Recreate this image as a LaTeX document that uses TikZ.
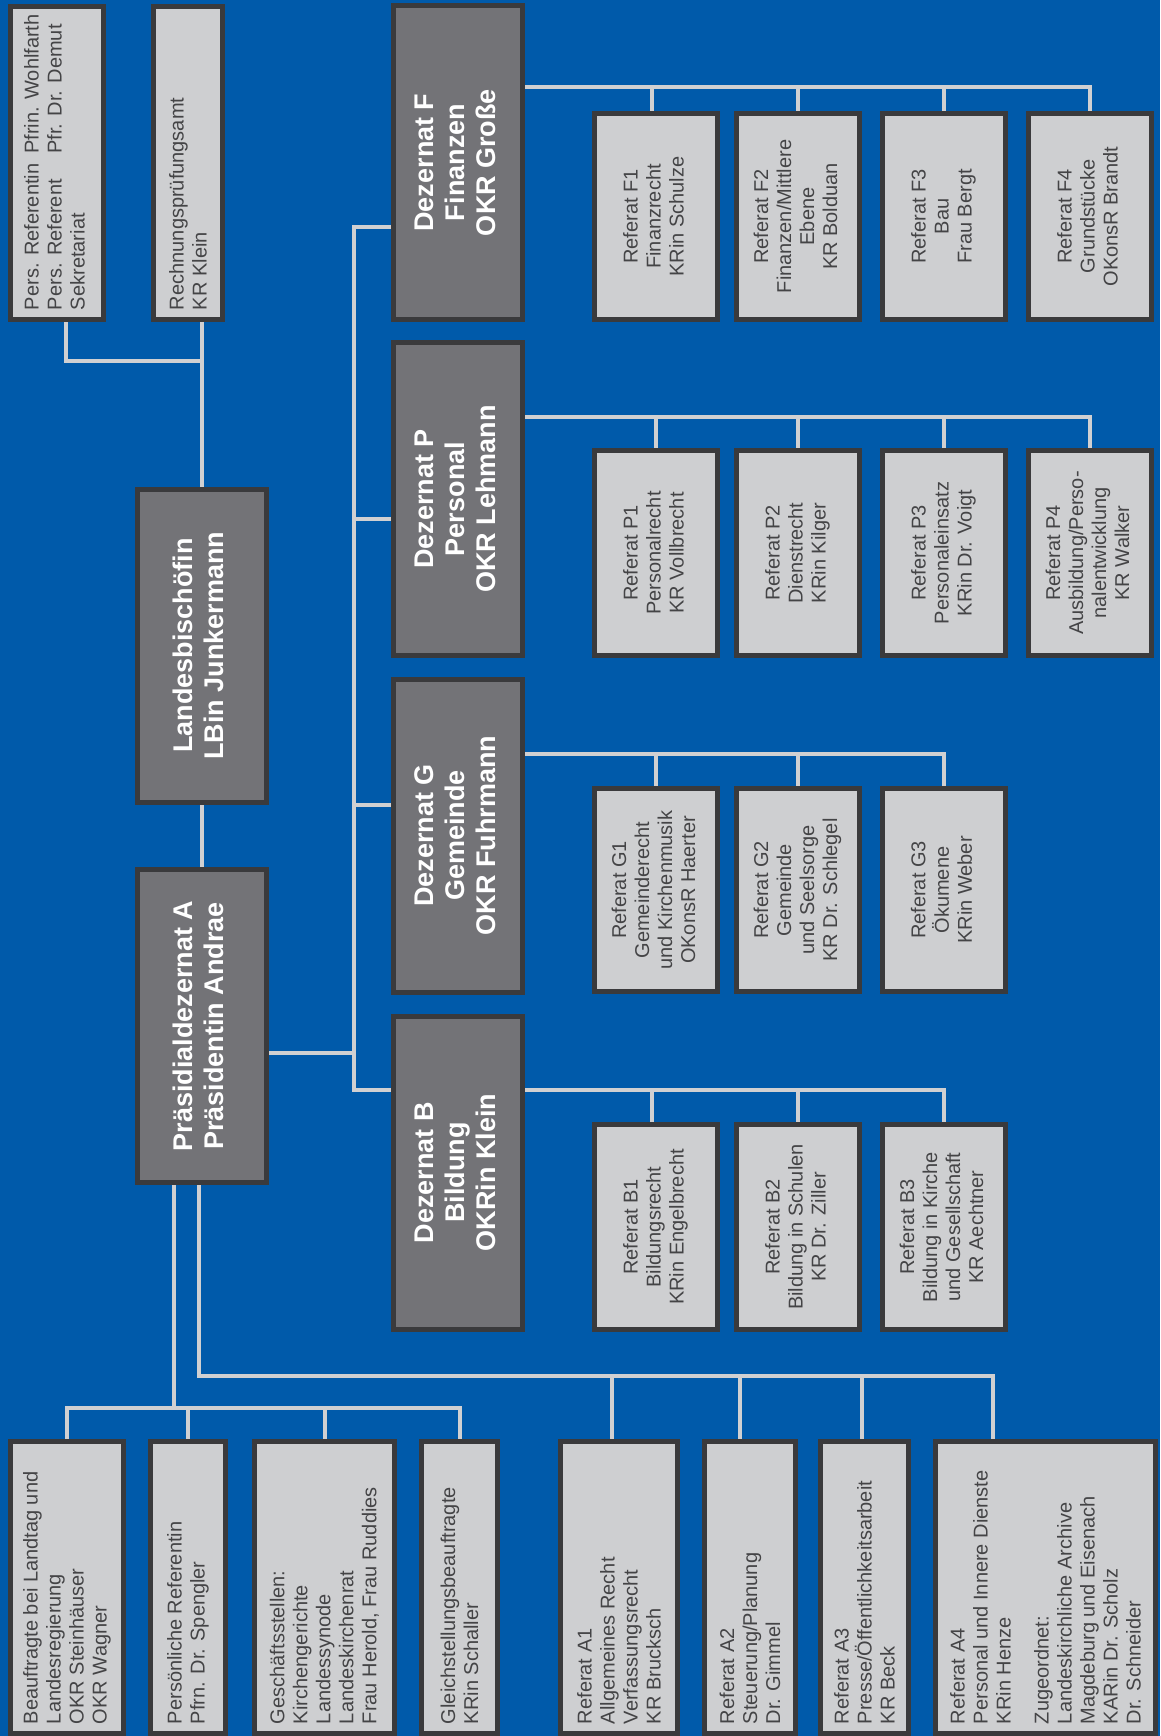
\documentclass[tikz,border=0pt]{standalone}
\usepackage{fontspec}
\setmainfont{Liberation Sans}
\usepackage{graphicx}
\usepackage{tikz}
\usetikzlibrary{backgrounds,calc}

\definecolor{panel}{RGB}{0,90,170}
\definecolor{rim}{RGB}{58,58,60}
\definecolor{pale}{RGB}{206,207,209}
\definecolor{slate}{RGB}{115,115,119}
\definecolor{ink}{RGB}{68,68,70}
\definecolor{wirecol}{RGB}{208,208,210}

\newcommand{\uptext}[1]{\rotatebox{90}{\begin{tabular}{@{}c@{}}#1\end{tabular}}}
\newcommand{\upflush}[2]{\rotatebox{90}{\begin{minipage}{#1}\raggedright #2\end{minipage}}}

\begin{document}
\begin{tikzpicture}[x=1pt,y=-1pt,
  box/.style 2 args={draw=rim,line width=5pt,inner sep=0pt,minimum width=#1,minimum height=#2},
  unit/.style 2 args={box={#1}{#2},fill=pale,text=ink,font=\fontsize{20}{23}\selectfont},
  dez/.style={box={129pt}{313pt},fill=slate,text=white,font=\bfseries\fontsize{27}{31}\selectfont},
  link/.style={draw=wirecol,line width=4pt}]
\useasboundingbox (0,0) rectangle (1160,1736);

% Leitung
\node[unit={93pt}{313pt}] (pers) at (57,163) {\upflush{294pt}{\begin{tabular}{@{}l@{\hspace{10pt}}l@{}}Pers. Referentin & Pfrin. Wohlfarth\\Pers. Referent & Pfr. Dr. Demut\\Sekretariat\end{tabular}}};
\node[unit={69pt}{313pt}] (rpa) at (188,163) {\upflush{294pt}{Rechnungsprüfungsamt\\KR Klein}};
\node[dez] (lb) at (202,645.5) {\uptext{Landesbischöfin\\LBin Junkermann}};
\node[dez] (pa) at (202,1026) {\uptext{Präsidialdezernat A\\Präsidentin Andrae}};

% Dezernate
\node[dez] (dF) at (458,162.5) {\uptext{Dezernat F\\Finanzen\\OKR Große}};
\node[dez] (dP) at (458,499) {\uptext{Dezernat P\\Personal\\OKR Lehmann}};
\node[dez] (dG) at (458,835.5) {\uptext{Dezernat G\\Gemeinde\\OKR Fuhrmann}};
\node[dez] (dB) at (458,1172.5) {\uptext{Dezernat B\\Bildung\\OKRin Klein}};

% Referate F
\node[unit={123pt}{206pt}] (f1) at (656,216.5) {\uptext{Referat F1\\Finanzrecht\\KRin Schulze}};
\node[unit={123pt}{206pt}] (f2) at (798,216.5) {\uptext{Referat F2\\Finanzen/Mittlere\\Ebene\\KR Bolduan}};
\node[unit={123pt}{206pt}] (f3) at (944,216.5) {\uptext{Referat F3\\Bau\\Frau Bergt}};
\node[unit={123pt}{206pt}] (f4) at (1090,216.5) {\uptext{Referat F4\\Grundstücke\\OKonsR Brandt}};

% Referate P
\node[unit={123pt}{205pt}] (p1) at (656,553) {\uptext{Referat P1\\Personalrecht\\KR Vollbrecht}};
\node[unit={123pt}{205pt}] (p2) at (798,553) {\uptext{Referat P2\\Dienstrecht\\KRin Kilger}};
\node[unit={123pt}{205pt}] (p3) at (944,553) {\uptext{Referat P3\\Personaleinsatz\\KRin Dr. Voigt}};
\node[unit={123pt}{205pt}] (p4) at (1090,553) {\uptext{Referat P4\\Ausbildung/Perso-\\nalentwicklung\\KR Walker}};

% Referate G
\node[unit={123pt}{203pt}] (g1) at (656,890) {\uptext{Referat G1\\Gemeinderecht\\und Kirchenmusik\\OKonsR Haerter}};
\node[unit={123pt}{203pt}] (g2) at (798,890) {\uptext{Referat G2\\Gemeinde\\und Seelsorge\\KR Dr. Schlegel}};
\node[unit={123pt}{203pt}] (g3) at (944,890) {\uptext{Referat G3\\Ökumene\\KRin Weber}};

% Referate B
\node[unit={123pt}{205pt}] (b1) at (656,1227) {\uptext{Referat B1\\Bildungsrecht\\KRin Engelbrecht}};
\node[unit={123pt}{205pt}] (b2) at (798,1227) {\uptext{Referat B2\\Bildung in Schulen\\KR Dr. Ziller}};
\node[unit={123pt}{205pt}] (b3) at (944,1227) {\uptext{Referat B3\\Bildung in Kirche\\und Gesellschaft\\KR Aechtner}};

% Stabsstellen und Referate A
\node[unit={113pt}{292pt}] (bt) at (67,1587.5) {\upflush{273pt}{Beauftragte bei Landtag und\\Landesregierung\\OKR Steinhäuser\\OKR Wagner}};
\node[unit={75pt}{292pt}] (pr) at (188,1587.5) {\upflush{273pt}{Persönliche Referentin\\Pfrn. Dr. Spengler}};
\node[unit={140pt}{292pt}] (gs) at (324.5,1587.5) {\upflush{273pt}{Geschäftsstellen:\\Kirchengerichte\\Landessynode\\Landeskirchenrat\\Frau Herold, Frau Ruddies}};
\node[unit={76pt}{292pt}] (gb) at (459.5,1587.5) {\upflush{273pt}{Gleichstellungsbeauftragte\\KRin Schaller}};
\node[unit={117pt}{292pt}] (a1) at (619,1587.5) {\upflush{273pt}{Referat A1\\Allgemeines Recht\\Verfassungsrecht\\KR Brucksch}};
\node[unit={91pt}{292pt}] (a2) at (750,1587.5) {\upflush{273pt}{Referat A2\\Steuerung/Planung\\Dr. Gimmel}};
\node[unit={88pt}{292pt}] (a3) at (864.5,1587.5) {\upflush{273pt}{Referat A3\\Presse/Öffentlichkeitsarbeit\\KR Beck}};
\node[unit={220pt}{292pt}] (a4) at (1045.5,1587.5) {\upflush{273pt}{Referat A4\\Personal und Innere Dienste\\KRin Henze\\[15pt]Zugeordnet:\\Landeskirchliche Archive\\Magdeburg und Eisenach\\KARin Dr. Scholz\\Dr. Schneider}};

\coordinate (jl) at (174,1408);
\coordinate (jr) at (993,1376);
\coordinate (trunk) at (354,1053);

\begin{scope}[on background layer]
\fill[panel] (0,0) rectangle (1160,1736);
\draw[link] ([xshift=9pt]pers.south) -- ++(0,39) -| (lb.north);
\draw[link] (rpa.south -| lb.north) -- (lb.north);
\draw[link] (lb.south) -- (pa.north);
\draw[link] ([xshift=-28pt]pa.south) -- (jl);
\draw[link] (jl) -| (bt.north);
\draw[link] (jl) -| (pr.north);
\draw[link] (jl) -| (gs.north);
\draw[link] (jl) -| (gb.north);
\draw[link] ([xshift=-3pt]pa.south) |- (jr) -- ([xshift=-52.5pt]a4.north);
\draw[link] (jr) -| ([xshift=-7pt]a1.north);
\draw[link] (jr) -| ([xshift=-10pt]a2.north);
\draw[link] (jr) -| ([xshift=-2.5pt]a3.north);
\draw[link] ([yshift=-27pt]pa.east) -- (trunk);
\draw[link] ([yshift=-64.5pt]dF.west) -| (trunk) |- ([yshift=82.5pt]dB.west);
\draw[link] ([yshift=-20pt]dP.west) -| (trunk);
\draw[link] ([yshift=30.5pt]dG.west) -| (trunk);
\draw[link] ([yshift=75.5pt]dF.east) -| (f4.north);
\draw[link] ([yshift=75.5pt]dF.east) -| ([xshift=-4pt]f1.north);
\draw[link] ([yshift=75.5pt]dF.east) -| (f2.north);
\draw[link] ([yshift=75.5pt]dF.east) -| (f3.north);
\draw[link] ([yshift=82pt]dP.east) -| (p4.north);
\draw[link] ([yshift=82pt]dP.east) -| (p1.north);
\draw[link] ([yshift=82pt]dP.east) -| (p2.north);
\draw[link] ([yshift=82pt]dP.east) -| (p3.north);
\draw[link] ([yshift=81.5pt]dG.east) -| (g3.north);
\draw[link] ([yshift=81.5pt]dG.east) -| (g1.north);
\draw[link] ([yshift=81.5pt]dG.east) -| (g2.north);
\draw[link] ([yshift=82.5pt]dB.east) -| (b3.north);
\draw[link] ([yshift=82.5pt]dB.east) -| ([xshift=-4pt]b1.north);
\draw[link] ([yshift=82.5pt]dB.east) -| (b2.north);
\end{scope}
\end{tikzpicture}
\end{document}
